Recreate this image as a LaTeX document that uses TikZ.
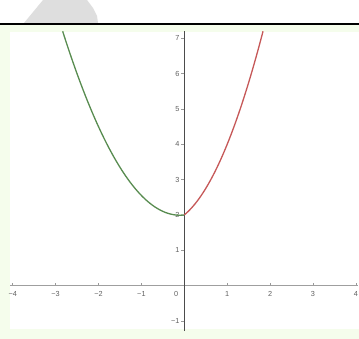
\documentclass[tikz,border=0pt]{standalone}
\usepackage{fontspec}
\setmainfont{Liberation Sans}
\begin{document}
\definecolor{bgpale}{HTML}{F5FDEC}
\definecolor{blobgray}{HTML}{DEDEDE}
\definecolor{curvegreen}{RGB}{88,140,80}
\definecolor{curvered}{RGB}{198,88,88}
\definecolor{labgray}{HTML}{606060}
\begin{tikzpicture}[x=1pt,y=-1pt,
  ticklab/.style={font=\fontsize{7.3}{8}\selectfont, text=labgray, inner sep=0pt},
  xaxisline/.style={draw=gray!75, line width=0.9pt},
  yaxisline/.style={draw=black!70, line width=0.9pt},
  tickmark/.style={draw=gray!80, line width=0.6pt},
  curve/.style={line width=1.3pt, smooth, samples=80}]
\useasboundingbox (0,0) rectangle (359,339);
% top area
\fill[white] (0,0) rectangle (359,23);
\fill[blobgray] (43,0) -- (87,0) -- (93,8) -- (97,16) -- (98,23) -- (24,23) -- cycle;
\fill[bgpale] (0,24) rectangle (359,339);
\fill[white] (10,32) rectangle (359,329);
\draw[line width=2.3pt] (0,24) -- (359,24);
\begin{scope}[shift={(184.3pt,-285.5pt)}, x=42.9pt, y=35.3pt]
  % axes
  \coordinate (xl) at (-4.06,0);
  \coordinate (xr) at (4.06,0);
  \coordinate (yt) at (0,7.2);
  \coordinate (yb) at (0,-1.29);
  \draw[xaxisline] (xl) -- (xr);
  \draw[yaxisline] (yb) -- (yt);
  % x ticks and labels
  \foreach \v/\t in {-4/−4,-3/−3,-2/−2,-1/−1,1/1,2/2,3/3,4/4} {
    \draw[tickmark] (\v,0) -- ++(0,0.07);
    \node[ticklab] (xlab\v) at (\v,-0.23) {\t};
  }
  \node[ticklab] (olab) at (-0.19,-0.23) {0};
  % y ticks and labels
  \foreach \v/\t in {1/1,2/2,3/3,4/4,5/5,6/6,7/7,-1/−1} {
    \draw[tickmark] (0,\v) -- ++(-0.07,0);
    \node[ticklab, anchor=east] (ylab\v) at (-0.11,\v) {\t};
  }
  % curves
  \draw[curve, curvegreen] plot[domain=-2.835:0] (\x, {0.7*\x*\x+0.15*\x+2});
  \draw[curve, curvered] plot[domain=0:1.835] (\x, {\x*\x+\x+2});
\end{scope}
\end{tikzpicture}
\end{document}
